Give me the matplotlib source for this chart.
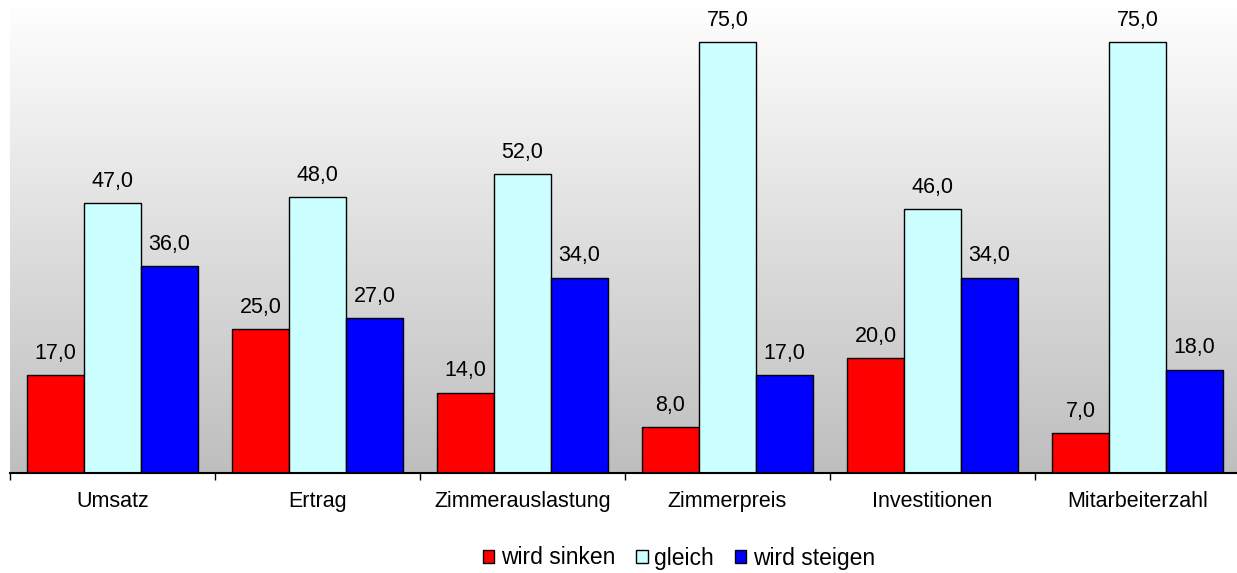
import numpy as np
import matplotlib.pyplot as plt

plt.rcParams['font.family'] = ['Liberation Sans', 'DejaVu Sans']

categories = ['Umsatz', 'Ertrag', 'Zimmerauslastung', 'Zimmerpreis',
              'Investitionen', 'Mitarbeiterzahl']
sinken = [17.0, 25.0, 14.0, 8.0, 20.0, 7.0]
gleich = [47.0, 48.0, 52.0, 75.0, 46.0, 75.0]
steigen = [36.0, 27.0, 34.0, 17.0, 34.0, 18.0]
series = [('wird sinken', sinken, '#FF0000'),
          ('gleich', gleich, '#CCFFFF'),
          ('wird steigen', steigen, '#0000FF')]

fig = plt.figure(figsize=(12.37, 5.73), dpi=100)
ax = fig.add_axes([10 / 1237, 100 / 573, 1230 / 1237, 473 / 573])

# background gradient, white on top to grey at the bottom
grad = np.linspace(1.0, 0.745, 256).reshape(-1, 1)
ax.imshow(np.dstack([grad, grad, grad]), extent=[0, 1, 0, 1],
          transform=ax.transAxes, aspect='auto', zorder=0)

x = np.arange(len(categories))
w = 0.278
for i, (name, vals, col) in enumerate(series):
    bars = ax.bar(x + (i - 1) * w, vals, w, color=col, edgecolor='black',
                  linewidth=1, label=name, zorder=2)
    ax.bar_label(bars, labels=[f'{v:.1f}'.replace('.', ',') for v in vals],
                 padding=8, fontsize=15.5)

ax.set_xlim(-0.5, len(categories) - 0.5)
ax.set_ylim(0, 82.3)
ax.set_yticks([])
for s in ['top', 'right', 'left']:
    ax.spines[s].set_visible(False)
ax.spines['bottom'].set_linewidth(1.5)
ax.spines['bottom'].set_zorder(3)

ax.set_xticks(x)
ax.set_xticklabels(categories, fontsize=15.5)
ax.tick_params(axis='x', which='major', length=0, pad=13)
ax.set_xticks(np.arange(len(categories) + 1) - 0.5, minor=True)
ax.tick_params(axis='x', which='minor', length=5, width=1)

fig.legend(loc='center', bbox_to_anchor=(679 / 1237, 15 / 573), ncol=3,
           frameon=False, fontsize=16.5, handlelength=0.5, handleheight=0.5,
           handletextpad=0.3, columnspacing=0.9)

fig.savefig('out.png', dpi=100)
